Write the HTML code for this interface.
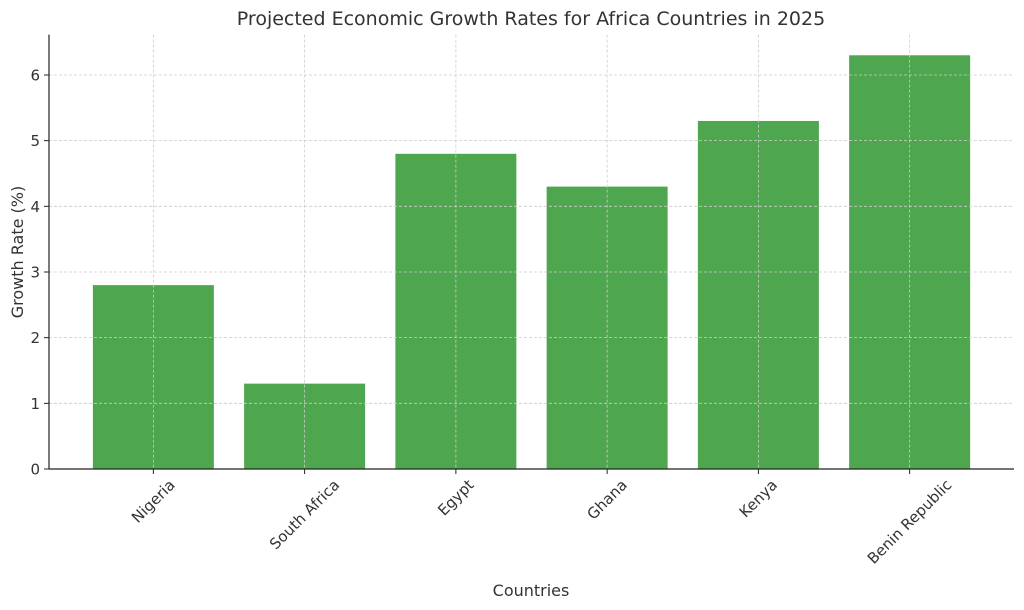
<!DOCTYPE html>
<html><head><meta charset="utf-8"><style>
body{margin:0;background:#fff;}
svg{display:block;font-family:"DejaVu Sans","Liberation Sans",sans-serif;}
</style></head><body>
<svg id="c" width="1024" height="610">
<text x="531" y="25" font-size="19" fill="#333" text-anchor="middle">Projected Economic Growth Rates for Africa Countries in 2025</text>
<text x="531" y="596" font-size="16" fill="#333" text-anchor="middle">Countries</text>
<text transform="translate(23,252) rotate(-90)" font-size="16" fill="#333" text-anchor="middle">Growth Rate (%)</text>
<g id="bars"></g><g id="grid"></g><g id="axes"></g>
</svg>
<script>
const categories=["Nigeria","South Africa","Egypt","Ghana","Kenya","Benin Republic"];
const values=[2.8,1.3,4.8,4.3,5.3,6.3];
const yTicks=[0,1,2,3,4,5,6];
const NS="http://www.w3.org/2000/svg";
const L=49,R=1014,B=469,T=34.6;
const xmin=-0.69,xmax=categories.length-1+0.69;
const ymax=Math.max(...values)*1.05;
const x=i=>L+(i-xmin)/(xmax-xmin)*(R-L);
const y=v=>B-v/ymax*(B-T);
const bw=0.8*(x(1)-x(0));
function mk(tag,at,parent){const e=document.createElementNS(NS,tag);for(const k in at)e.setAttribute(k,at[k]);document.getElementById(parent).appendChild(e);return e;}
values.forEach((v,i)=>{
 const r=mk('rect',{x:x(i)-bw/2,y:y(v),width:bw,height:B-y(v),fill:'#4ea64e'},'bars');
 
 
});
yTicks.forEach(t=>{
 const g=mk('line',{x1:L,x2:R,y1:y(t),y2:y(t),stroke:'#ccc','stroke-width':0.8,'stroke-dasharray':'3,2'},'grid');
 
 
 const tk=mk('line',{x1:L-5,x2:L,y1:y(t),y2:y(t),stroke:'#222','stroke-width':1},'axes');
 
 
 const lb=mk('text',{x:L-9,y:y(t)+5.5,'font-size':15,fill:'#333','text-anchor':'end'},'axes');
 lb.textContent=t;
 
 
});
categories.forEach((c,i)=>{
 const g=mk('line',{x1:x(i),x2:x(i),y1:T,y2:B,stroke:'#ccc','stroke-width':0.8,'stroke-dasharray':'3,2'},'grid');
 
 
 const tk=mk('line',{x1:x(i),x2:x(i),y1:B,y2:B+5,stroke:'#222','stroke-width':1},'axes');
 
 
 const lb=mk('text',{'font-size':15,fill:'#333','text-anchor':'middle','dominant-baseline':'central'},'axes');
 lb.textContent=c;
 
 
 const w=lb.getComputedTextLength();
 const cy=477+(w+15)*0.7071/2;
 lb.setAttribute('transform','translate('+x(i)+','+cy+') rotate(-45)');
});
const ax=mk('line',{x1:L,x2:L,y1:T,y2:B,stroke:'#222','stroke-width':1.2},'axes');


const bx=mk('line',{x1:L,x2:R,y1:B,y2:B,stroke:'#222','stroke-width':1.2},'axes');


</script>
</body></html>
